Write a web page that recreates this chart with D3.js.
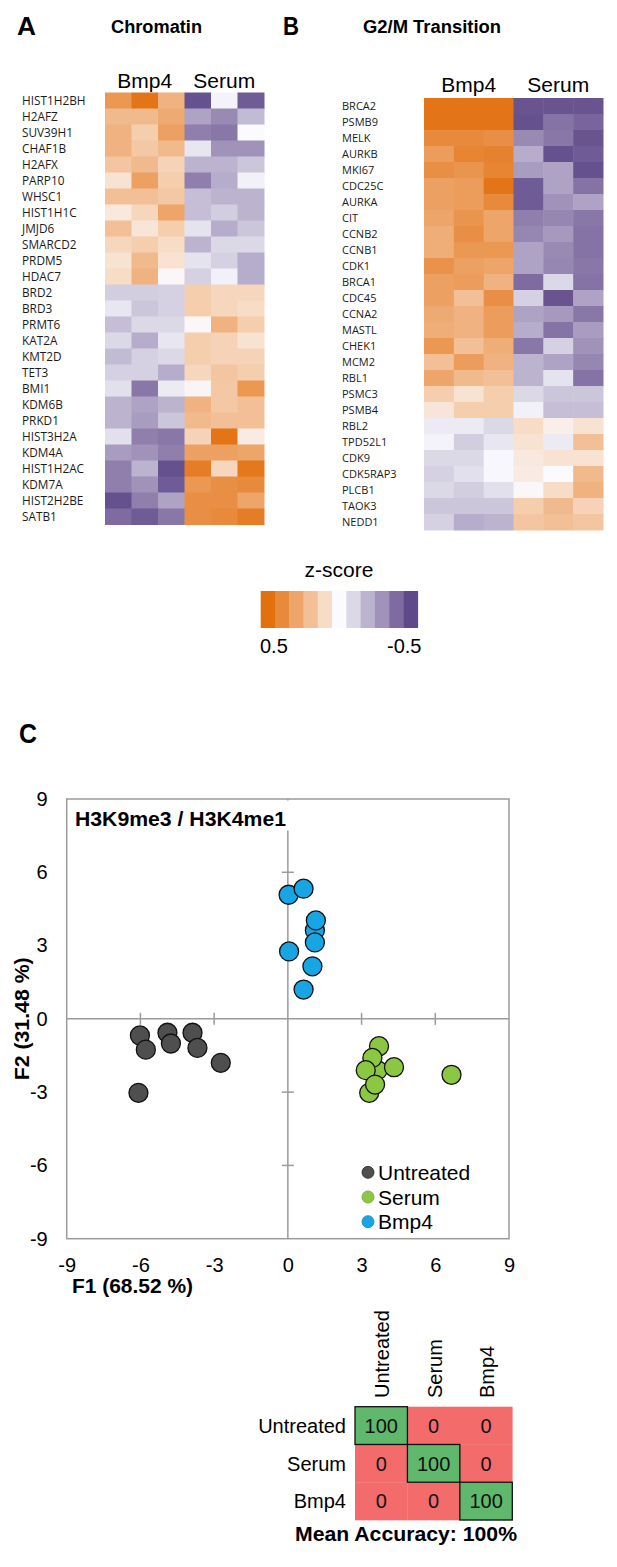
<!DOCTYPE html>
<html>
<head>
<meta charset="utf-8">
<script src="https://cdn.jsdelivr.net/npm/d3@7"></script>
<style>
  html, body { margin: 0; padding: 0; background: #fff; }
  svg { display: block; }
</style>
</head>
<body>
<svg id="chart" width="617" height="1567"></svg>
<script>
// ---------------- DATA ----------------
const sampleColumns = ["Bmp4 1", "Bmp4 2", "Bmp4 3", "Serum 1", "Serum 2", "Serum 3"];
const conditionHeaders = ["Bmp4", "Serum"];

const chromatinGenes = ["HIST1H2BH","H2AFZ","SUV39H1","CHAF1B","H2AFX","PARP10","WHSC1","HIST1H1C","JMJD6","SMARCD2","PRDM5","HDAC7","BRD2","BRD3","PRMT6","KAT2A","KMT2D","TET3","BMI1","KDM6B","PRKD1","HIST3H2A","KDM4A","HIST1H2AC","KDM7A","HIST2H2BE","SATB1"];
const chromatinValues = [
  [0.35, 0.48, 0.25, -0.48, -0.02, -0.45],
  [0.22, 0.22, 0.28, -0.25, -0.32, -0.18],
  [0.25, 0.15, 0.32, -0.35, -0.37, 0.00],
  [0.25, 0.17, 0.22, -0.06, -0.30, -0.30],
  [0.18, 0.22, 0.13, -0.20, -0.20, -0.15],
  [0.08, 0.32, 0.15, -0.35, -0.22, -0.03],
  [0.20, 0.20, 0.17, -0.17, -0.20, -0.20],
  [0.06, 0.12, 0.30, -0.17, -0.13, -0.20],
  [0.20, 0.07, 0.15, -0.07, -0.22, -0.15],
  [0.12, 0.15, 0.10, -0.20, -0.10, -0.10],
  [0.08, 0.22, 0.08, -0.07, -0.12, -0.22],
  [0.10, 0.25, 0.01, -0.12, -0.03, -0.22],
  [-0.13, -0.13, -0.12, 0.15, 0.12, 0.12],
  [-0.06, -0.15, -0.12, 0.15, 0.12, 0.10],
  [-0.17, -0.10, -0.10, 0.01, 0.25, 0.15],
  [-0.10, -0.22, -0.06, 0.15, 0.13, 0.08],
  [-0.18, -0.12, -0.10, 0.15, 0.13, 0.13],
  [-0.12, -0.12, -0.22, 0.12, 0.18, 0.15],
  [-0.08, -0.37, -0.05, 0.02, 0.17, 0.35],
  [-0.20, -0.25, -0.20, 0.25, 0.17, 0.20],
  [-0.20, -0.27, -0.15, 0.22, 0.20, 0.20],
  [-0.08, -0.35, -0.37, 0.13, 0.48, 0.05],
  [-0.27, -0.30, -0.35, 0.32, 0.32, 0.30],
  [-0.35, -0.20, -0.48, 0.45, 0.12, 0.47],
  [-0.35, -0.30, -0.45, 0.35, 0.38, 0.40],
  [-0.48, -0.35, -0.25, 0.38, 0.38, 0.30],
  [-0.40, -0.45, -0.37, 0.38, 0.40, 0.45]
];

const g2mGenes = ["BRCA2","PSMB9","MELK","AURKB","MKI67","CDC25C","AURKA","CIT","CCNB2","CCNB1","CDK1","BRCA1","CDC45","CCNA2","MASTL","CHEK1","MCM2","RBL1","PSMC3","PSMB4","RBL2","TPD52L1","CDK9","CDK5RAP3","PLCB1","TAOK3","NEDD1"];
const g2mValues = [
  [0.48, 0.48, 0.48, -0.47, -0.47, -0.47],
  [0.48, 0.48, 0.48, -0.48, -0.38, -0.42],
  [0.40, 0.40, 0.38, -0.32, -0.37, -0.47],
  [0.33, 0.42, 0.43, -0.22, -0.48, -0.45],
  [0.38, 0.36, 0.42, -0.27, -0.25, -0.48],
  [0.32, 0.33, 0.48, -0.45, -0.25, -0.38],
  [0.32, 0.33, 0.40, -0.45, -0.30, -0.25],
  [0.30, 0.36, 0.30, -0.35, -0.33, -0.37],
  [0.27, 0.38, 0.30, -0.33, -0.28, -0.38],
  [0.27, 0.35, 0.35, -0.25, -0.32, -0.38],
  [0.37, 0.32, 0.30, -0.25, -0.33, -0.37],
  [0.32, 0.33, 0.25, -0.40, -0.10, -0.38],
  [0.32, 0.20, 0.38, -0.12, -0.47, -0.25],
  [0.28, 0.25, 0.33, -0.25, -0.28, -0.37],
  [0.27, 0.25, 0.33, -0.22, -0.38, -0.27],
  [0.35, 0.20, 0.27, -0.37, -0.12, -0.30],
  [0.20, 0.33, 0.25, -0.20, -0.25, -0.33],
  [0.30, 0.22, 0.20, -0.20, -0.07, -0.38],
  [0.15, 0.08, 0.15, -0.10, -0.15, -0.15],
  [0.07, 0.15, 0.15, -0.03, -0.17, -0.17],
  [-0.05, -0.05, -0.10, 0.10, 0.04, 0.08],
  [-0.02, -0.13, -0.06, 0.08, -0.05, 0.20],
  [-0.10, -0.10, -0.01, 0.06, 0.08, 0.08],
  [-0.12, -0.08, -0.01, 0.05, 0.00, 0.22],
  [-0.10, -0.13, -0.08, 0.01, 0.10, 0.25],
  [-0.15, -0.15, -0.15, 0.15, 0.22, 0.13],
  [-0.12, -0.22, -0.20, 0.18, 0.20, 0.18]
];

const legendStops = [0.5, 0.4, 0.3, 0.2, 0.1, 0, -0.1, -0.2, -0.3, -0.4, -0.5];
const legendTickLabels = ["0.5", "-0.5"];

const pcaGroups = ["Untreated", "Serum", "Bmp4"];
const untreatedPoints = [[-6.02,-0.68],[-4.90,-0.57],[-3.88,-0.57],[-5.78,-1.26],[-4.76,-1.01],[-3.68,-1.19],[-2.73,-1.80],[-6.08,-3.03]];
const serumPoints = [[3.71,-1.12],[3.65,-2.10],[3.44,-1.60],[4.32,-1.98],[3.17,-2.10],[6.66,-2.29],[3.31,-3.03],[3.55,-2.69]];
const bmp4Points = [[0.03,5.08],[0.64,5.33],[1.10,3.62],[1.14,4.03],[1.10,3.13],[0.05,2.76],[1.00,2.15],[0.64,1.20]];
const axisTicks = [-9, -6, -3, 0, 3, 6, 9];

const confusionClasses = ["Untreated", "Serum", "Bmp4"];
const confusionValues = [
  [100, 0, 0],
  [0, 100, 0],
  [0, 0, 100]
];
const meanAccuracy = "100%";

// ---------------- STYLE ----------------
const heatColors = ["#e2700f","#e88a3c","#eda56a","#f2bf96","#f7dcc6","#fbfaff","#dcd9e7","#bcb3cf","#a092b9","#7f6ba0","#5f4a89"];
const groupColors = { Untreated: "#4f4f4f", Serum: "#8cc743", Bmp4: "#17a6e3" };
const SANS = "'Liberation Sans', Arial, Helvetica, sans-serif";
const LABEL = "'Open Sans', 'Noto Sans', sans-serif";

const svg = d3.select("#chart");
const color = d3.scaleLinear().domain(legendStops).range(heatColors).clamp(true);

function txt(g, x, y, s, opts = {}) {
  const t = g.append("text").attr("x", x).attr("y", y).text(s)
    .attr("font-family", opts.family || SANS)
    .attr("font-size", opts.size || 20)
    .attr("font-weight", opts.weight || "normal")
    .attr("fill", opts.fill || "#000")
    .attr("text-anchor", opts.anchor || "start");
  if (opts.len) t.attr("textLength", opts.len).attr("lengthAdjust", "spacingAndGlyphs");
  return t;
}

// ---------------- Panel titles ----------------
txt(svg, 17, 35, "A", { size: 25, weight: "bold", len: 19 });
txt(svg, 111, 33, "Chromatin", { size: 18, weight: "bold", len: 91 });
txt(svg, 283, 35, "B", { size: 25, weight: "bold", len: 16 });
txt(svg, 363, 33, "G2/M Transition", { size: 18, weight: "bold", len: 138 });

// ---------------- Heatmap ----------------
function heatmap(genes, values, opt) {
  const g = svg.append("g");
  const x = d3.scaleBand().domain(sampleColumns).range([opt.x0, opt.x1]);
  const y = d3.scaleBand().domain(genes).range([opt.y0, opt.y0 + genes.length * 16]);
  genes.forEach((gene, i) => {
    values[i].forEach((v, j) => {
      g.append("rect")
        .attr("x", x(sampleColumns[j]))
        .attr("y", y(gene))
        .attr("width", x.bandwidth() + 0.5)
        .attr("height", y.bandwidth() + 0.5)
        .attr("fill", color(v));
    });
    txt(g, opt.labelX, y(gene) + y.bandwidth() / 2, gene, { family: LABEL, size: opt.labelSize, fill: "#1a1a1a" })
      .attr("dy", "0.35em");
  });
  conditionHeaders.forEach((h, k) => {
    const cx = (x(sampleColumns[k * 3]) + x(sampleColumns[k * 3 + 2]) + x.bandwidth()) / 2;
    txt(g, cx, opt.headerY, h, { size: 21, anchor: "middle" });
  });
}
heatmap(chromatinGenes, chromatinValues, { x0: 105, x1: 264, y0: 92.5, labelX: 22, labelSize: 11.8, headerY: 88 });
heatmap(g2mGenes, g2mValues, { x0: 424, x1: 603, y0: 98, labelX: 342, labelSize: 11, headerY: 92 });

// ---------------- z-score legend ----------------
{
  const g = svg.append("g");
  const lx = d3.scaleBand().domain(legendStops).range([260.7, 417.7]);
  legendStops.forEach(v => {
    g.append("rect").attr("x", lx(v)).attr("y", 591)
      .attr("width", lx.bandwidth() + 0.4).attr("height", 37).attr("fill", color(v));
  });
  txt(g, 339, 577, "z-score", { size: 21, anchor: "middle" });
  txt(g, 260, 653, legendTickLabels[0], { size: 20 });
  txt(g, 421.5, 653, legendTickLabels[1], { size: 20, anchor: "end" });
}

// ---------------- PCA scatter ----------------
{
  const g = svg.append("g");
  txt(g, 19, 743, "C", { size: 27, weight: "bold", len: 18 });
  const x = d3.scaleLinear().domain([-9, 9]).range([66.7, 509]);
  const y = d3.scaleLinear().domain([-9, 9]).range([1238.7, 799]);
  const axisColor = "#9b9b9b";

  g.append("rect").attr("x", x(-9)).attr("y", y(9))
    .attr("width", x(9) - x(-9)).attr("height", y(-9) - y(9))
    .attr("fill", "none").attr("stroke", axisColor).attr("stroke-width", 1.5);
  g.append("line").attr("x1", x(-9)).attr("x2", x(9)).attr("y1", y(0)).attr("y2", y(0))
    .attr("stroke", axisColor).attr("stroke-width", 1.5);
  g.append("line").attr("x1", x(0)).attr("x2", x(0)).attr("y1", y(9)).attr("y2", y(-9))
    .attr("stroke", axisColor).attr("stroke-width", 1.5);
  axisTicks.filter(t => t !== 0 && Math.abs(t) !== 9).forEach(t => {
    g.append("line").attr("x1", x(t)).attr("x2", x(t)).attr("y1", y(0) - 6).attr("y2", y(0) + 6)
      .attr("stroke", axisColor).attr("stroke-width", 1.5);
    g.append("line").attr("x1", x(0) - 6).attr("x2", x(0) + 6).attr("y1", y(t)).attr("y2", y(t))
      .attr("stroke", axisColor).attr("stroke-width", 1.5);
  });

  const xa = g.append("g").attr("transform", `translate(0,${y(-9)})`)
    .call(d3.axisBottom(x).tickValues(axisTicks).tickSize(0).tickPadding(19).tickFormat(d3.format("d")));
  const ya = g.append("g").attr("transform", `translate(${x(-9)},0)`)
    .call(d3.axisLeft(y).tickValues(axisTicks).tickSize(0).tickPadding(19).tickFormat(d3.format("d")));
  [xa, ya].forEach(a => {
    a.select(".domain").remove();
    a.selectAll("text").attr("font-family", SANS).attr("font-size", 20).attr("fill", "#000");
  });
  xa.selectAll("text").text(d => d < 0 ? "-" + Math.abs(d) : d);
  ya.selectAll("text").text(d => d < 0 ? "-" + Math.abs(d) : d);

  g.append("rect").attr("x", x(-9) + 2).attr("y", y(9) + 1.5).attr("width", 224).attr("height", 30).attr("fill", "#fff");
  txt(g, 75, 826, "H3K9me3 / H3K4me1", { size: 21, weight: "bold", len: 211 });

  txt(g, 72, 1293, "F1 (68.52 %)", { size: 21, weight: "bold", len: 121 });
  txt(g, 0, 0, "F2 (31.48 %)", { size: 21, weight: "bold", anchor: "middle", len: 123 })
    .attr("transform", `translate(29,${y(0)}) rotate(-90)`);

  const groupsData = { Untreated: untreatedPoints, Serum: serumPoints, Bmp4: bmp4Points };
  pcaGroups.forEach(grp => {
    g.append("g").selectAll("circle").data(groupsData[grp]).join("circle")
      .attr("cx", d => x(d[0])).attr("cy", d => y(d[1])).attr("r", 9.5)
      .attr("fill", groupColors[grp]).attr("stroke", "#111").attr("stroke-width", 1.3);
  });

  const ly = d3.scaleBand().domain(pcaGroups).range([1160, 1234]);
  pcaGroups.forEach(grp => {
    const cy = ly(grp) + ly.bandwidth() / 2;
    g.append("circle").attr("cx", 368).attr("cy", cy).attr("r", 6)
      .attr("fill", groupColors[grp]).attr("stroke", grp === "Untreated" ? "#222" : d3.color(groupColors[grp]).darker(0.6)).attr("stroke-width", 0.8);
    txt(g, 378, cy, grp, { size: 21 }).attr("dy", "0.36em");
  });
}

// ---------------- Confusion matrix ----------------
{
  const g = svg.append("g");
  const cx = d3.scaleBand().domain(confusionClasses).range([355, 512.3]);
  const cy = d3.scaleBand().domain(confusionClasses).range([1406.7, 1520]);
  const red = "#f36b6b", green = "#5fb86c";
  confusionClasses.forEach((r, i) => {
    confusionClasses.forEach((c, j) => {
      g.append("rect").attr("x", cx(c)).attr("y", cy(r))
        .attr("width", cx.bandwidth() + 0.3).attr("height", cy.bandwidth() + 0.3)
        .attr("fill", i === j ? green : red);
    });
  });
  confusionClasses.forEach((r) => {
    g.append("rect").attr("x", cx(r)).attr("y", cy(r))
      .attr("width", cx.bandwidth()).attr("height", cy.bandwidth())
      .attr("fill", "none").attr("stroke", "#111").attr("stroke-width", 1.3);
  });
  confusionClasses.forEach((r, i) => {
    confusionClasses.forEach((c, j) => {
      txt(g, cx(c) + cx.bandwidth() / 2, cy(r) + cy.bandwidth() / 2, String(confusionValues[i][j]), { size: 20, anchor: "middle", fill: "#111" })
        .attr("dy", "0.36em");
    });
    txt(g, 346, cy(r) + cy.bandwidth() / 2, r, { size: 20, anchor: "end" }).attr("dy", "0.36em");
    txt(g, 0, 0, r, { size: 20, anchor: "start" })
      .attr("dy", "0.35em")
      .attr("transform", `translate(${cx(r) + cx.bandwidth() / 2 + 1},1398) rotate(-90)`);
  });
  txt(g, 406, 1541, "Mean Accuracy: " + meanAccuracy, { size: 21, weight: "bold", anchor: "middle", len: 222 });
}
</script>
</body>
</html>
